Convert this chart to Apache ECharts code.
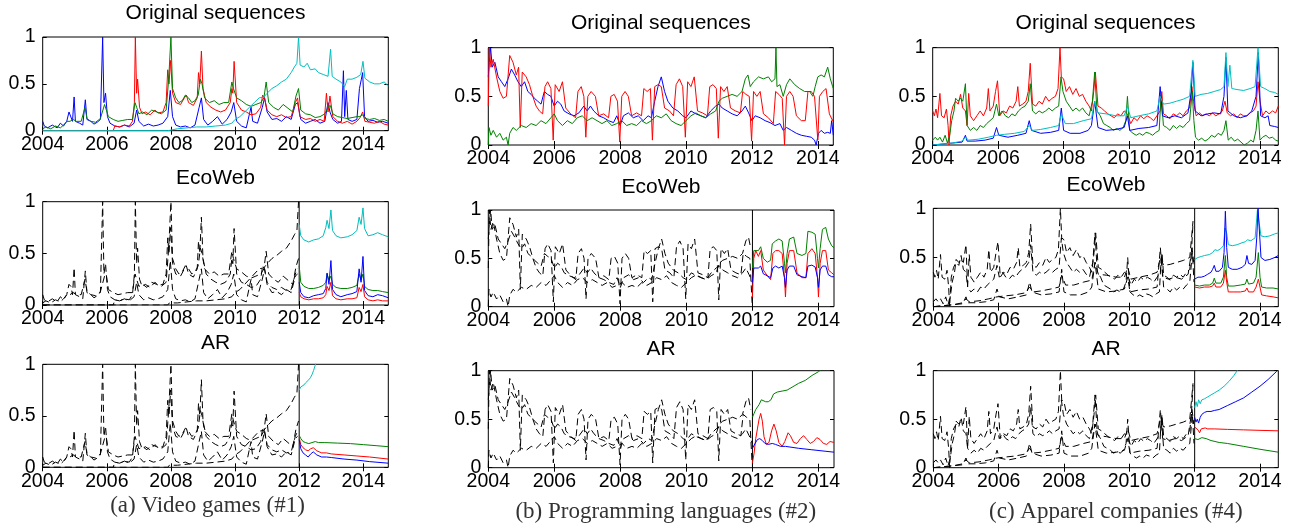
<!DOCTYPE html>
<html>
<head>
<meta charset="utf-8">
<script src="https://cdn.jsdelivr.net/npm/echarts@6/dist/echarts.min.js"></script>
<style>
    html, body { margin: 0; padding: 0; background: #fff; }
    #main { width: 1293px; height: 527px; }
</style>
</head>
<body>
<div id="main"></div>
<script>
// tick labels
var xTickVals = [2004, 2006, 2008, 2010, 2012, 2014];
var yTickVals = [0, 0.5, 1];
var splitYear = 2012;

// (a) Video games - original sequences [year, value]
var aBlue = [[2004.0,0.1],[2004.05,0.05],[2004.15,0.03],[2004.3,0.06],[2004.45,0.03],[2004.55,0.08],[2004.65,0.05],[2004.75,0.1],[2004.82,0.2],[2004.88,0.18],[2004.93,0.1],[2004.98,0.36],[2005.02,0.1],[2005.15,0.08],[2005.25,0.06],[2005.33,0.33],[2005.38,0.12],[2005.5,0.1],[2005.6,0.07],[2005.7,0.09],[2005.8,0.12],[2005.87,1.0],[2005.91,0.3],[2005.96,0.4],[2006.02,0.15],[2006.1,0.08],[2006.25,0.05],[2006.4,0.04],[2006.55,0.06],[2006.7,0.04],[2006.85,0.08],[2006.93,0.22],[2007.0,0.1],[2007.15,0.05],[2007.3,0.07],[2007.45,0.05],[2007.6,0.06],[2007.75,0.08],[2007.9,0.15],[2007.98,0.43],[2008.05,0.15],[2008.15,0.06],[2008.3,0.04],[2008.45,0.05],[2008.6,0.03],[2008.75,0.06],[2008.88,0.25],[2008.95,0.35],[2009.02,0.12],[2009.15,0.06],[2009.3,0.1],[2009.45,0.15],[2009.6,0.07],[2009.75,0.12],[2009.88,0.2],[2009.96,0.3],[2010.05,0.1],[2010.2,0.05],[2010.35,0.03],[2010.45,0.18],[2010.5,0.25],[2010.55,0.1],[2010.7,0.08],[2010.85,0.25],[2010.92,0.35],[2011.0,0.2],[2011.15,0.12],[2011.3,0.13],[2011.45,0.1],[2011.6,0.15],[2011.75,0.12],[2011.88,0.28],[2011.95,0.3],[2012.05,0.12],[2012.2,0.08],[2012.35,0.1],[2012.5,0.12],[2012.65,0.08],[2012.8,0.1],[2012.9,0.3],[2012.96,0.2],[2013.05,0.12],[2013.2,0.08],[2013.32,0.1],[2013.38,0.64],[2013.42,0.15],[2013.47,0.43],[2013.52,0.12],[2013.65,0.1],[2013.8,0.12],[2013.88,0.45],[2013.94,0.55],[2013.98,0.62],[2014.04,0.15],[2014.15,0.1],[2014.3,0.11],[2014.45,0.09],[2014.6,0.1],[2014.78,0.08]];
var aRed = [[2004.0,0.0],[2006.2,0.0],[2006.25,0.05],[2006.4,0.04],[2006.55,0.06],[2006.7,0.05],[2006.8,0.1],[2006.86,0.3],[2006.89,1.0],[2006.93,0.4],[2006.96,0.55],[2007.02,0.25],[2007.1,0.18],[2007.2,0.2],[2007.35,0.17],[2007.5,0.22],[2007.6,0.19],[2007.75,0.2],[2007.85,0.3],[2007.9,0.65],[2007.94,0.5],[2007.99,0.75],[2008.05,0.4],[2008.15,0.3],[2008.3,0.28],[2008.42,0.35],[2008.48,0.38],[2008.55,0.3],[2008.7,0.27],[2008.82,0.35],[2008.86,0.62],[2008.9,0.5],[2008.95,0.85],[2009.0,0.45],[2009.1,0.3],[2009.25,0.25],[2009.4,0.22],[2009.55,0.2],[2009.7,0.22],[2009.85,0.3],[2009.9,0.45],[2009.93,0.4],[2009.97,0.74],[2010.05,0.3],[2010.2,0.22],[2010.35,0.2],[2010.5,0.17],[2010.65,0.18],[2010.8,0.25],[2010.86,0.38],[2010.92,0.35],[2011.0,0.22],[2011.15,0.17],[2011.3,0.15],[2011.45,0.17],[2011.6,0.14],[2011.75,0.15],[2011.88,0.3],[2011.95,0.35],[2012.02,0.15],[2012.2,0.12],[2012.35,0.13],[2012.5,0.1],[2012.65,0.12],[2012.78,0.1],[2012.85,0.4],[2012.9,0.2],[2012.96,0.37],[2013.05,0.15],[2013.2,0.1],[2013.35,0.08],[2013.5,0.1],[2013.65,0.07],[2013.8,0.1],[2013.9,0.14],[2013.98,0.2],[2014.05,0.1],[2014.2,0.09],[2014.35,0.08],[2014.5,0.1],[2014.65,0.07],[2014.78,0.06]];
var aGreen = [[2004.0,0.02],[2004.1,0.04],[2004.25,0.02],[2004.4,0.05],[2004.55,0.03],[2004.65,0.06],[2004.75,0.1],[2004.85,0.1],[2004.95,0.12],[2005.05,0.1],[2005.2,0.1],[2005.32,0.25],[2005.38,0.13],[2005.5,0.1],[2005.65,0.09],[2005.8,0.13],[2005.93,0.28],[2005.98,0.3],[2006.05,0.15],[2006.2,0.12],[2006.35,0.1],[2006.5,0.11],[2006.65,0.12],[2006.8,0.12],[2006.88,0.3],[2006.93,0.25],[2007.0,0.18],[2007.12,0.2],[2007.25,0.17],[2007.4,0.22],[2007.55,0.2],[2007.7,0.18],[2007.85,0.22],[2007.93,0.55],[2008.0,1.0],[2008.05,0.45],[2008.15,0.35],[2008.25,0.3],[2008.35,0.32],[2008.45,0.38],[2008.55,0.35],[2008.65,0.3],[2008.75,0.32],[2008.85,0.38],[2008.92,0.55],[2008.97,0.5],[2009.05,0.35],[2009.2,0.3],[2009.35,0.32],[2009.5,0.28],[2009.65,0.3],[2009.8,0.3],[2009.9,0.52],[2009.95,0.45],[2010.05,0.35],[2010.2,0.32],[2010.35,0.28],[2010.5,0.26],[2010.65,0.28],[2010.8,0.3],[2010.9,0.35],[2010.97,0.52],[2011.05,0.3],[2011.2,0.25],[2011.35,0.22],[2011.5,0.28],[2011.65,0.24],[2011.8,0.2],[2011.9,0.37],[2011.98,0.45],[2012.05,0.22],[2012.2,0.18],[2012.35,0.17],[2012.5,0.14],[2012.65,0.15],[2012.8,0.18],[2012.9,0.25],[2012.97,0.27],[2013.05,0.18],[2013.2,0.15],[2013.35,0.14],[2013.5,0.13],[2013.65,0.14],[2013.8,0.15],[2013.9,0.15],[2013.98,0.17],[2014.05,0.13],[2014.2,0.12],[2014.35,0.13],[2014.5,0.11],[2014.65,0.12],[2014.78,0.1]];
var aCyan = [[2004.0,0.0],[2007.9,0.0],[2007.95,0.02],[2008.2,0.02],[2008.5,0.03],[2008.8,0.04],[2009.1,0.04],[2009.4,0.05],[2009.7,0.06],[2009.9,0.08],[2010.0,0.12],[2010.15,0.15],[2010.3,0.2],[2010.45,0.25],[2010.6,0.3],[2010.75,0.35],[2010.9,0.36],[2011.0,0.4],[2011.15,0.45],[2011.3,0.48],[2011.45,0.52],[2011.6,0.55],[2011.75,0.62],[2011.85,0.68],[2011.93,0.72],[2011.98,1.0],[2012.03,0.7],[2012.15,0.68],[2012.25,0.72],[2012.35,0.65],[2012.5,0.66],[2012.6,0.62],[2012.75,0.6],[2012.9,0.58],[2012.98,0.87],[2013.03,0.58],[2013.15,0.55],[2013.3,0.52],[2013.42,0.47],[2013.5,0.55],[2013.65,0.55],[2013.8,0.57],[2013.92,0.6],[2013.99,0.74],[2014.05,0.56],[2014.2,0.52],[2014.35,0.5],[2014.5,0.5],[2014.65,0.52],[2014.78,0.48]];

// (a) forecasts
var aEcoCyan = [[2012.0,0.78],[2012.05,0.67],[2012.15,0.63],[2012.3,0.61],[2012.45,0.63],[2012.6,0.64],[2012.75,0.67],[2012.83,0.75],[2012.87,0.82],[2012.93,0.74],[2012.99,0.92],[2013.04,0.72],[2013.15,0.67],[2013.3,0.65],[2013.5,0.66],[2013.65,0.68],[2013.8,0.72],[2013.87,0.85],[2013.93,0.78],[2013.99,0.94],[2014.04,0.74],[2014.15,0.67],[2014.3,0.68],[2014.45,0.7],[2014.6,0.68],[2014.78,0.66]];
var aEcoGreen = [[2012.0,0.38],[2012.05,0.22],[2012.15,0.18],[2012.3,0.16],[2012.45,0.16],[2012.6,0.17],[2012.75,0.19],[2012.83,0.22],[2012.87,0.3],[2012.93,0.24],[2012.99,0.28],[2013.04,0.2],[2013.15,0.17],[2013.3,0.16],[2013.5,0.16],[2013.65,0.17],[2013.8,0.19],[2013.87,0.3],[2013.93,0.24],[2013.99,0.3],[2014.04,0.18],[2014.15,0.15],[2014.3,0.14],[2014.45,0.14],[2014.6,0.13],[2014.78,0.12]];
var aEcoBlue = [[2012.0,0.22],[2012.05,0.12],[2012.15,0.08],[2012.3,0.07],[2012.45,0.09],[2012.6,0.1],[2012.75,0.11],[2012.83,0.16],[2012.87,0.31],[2012.93,0.2],[2012.99,0.43],[2013.04,0.15],[2013.15,0.1],[2013.3,0.08],[2013.5,0.1],[2013.65,0.11],[2013.8,0.13],[2013.87,0.35],[2013.93,0.22],[2013.99,0.47],[2014.04,0.14],[2014.15,0.09],[2014.3,0.08],[2014.45,0.1],[2014.6,0.09],[2014.78,0.07]];
var aEcoRed = [[2012.0,0.12],[2012.05,0.08],[2012.15,0.06],[2012.3,0.05],[2012.45,0.06],[2012.6,0.06],[2012.75,0.07],[2012.83,0.1],[2012.87,0.18],[2012.93,0.14],[2012.99,0.22],[2013.04,0.09],[2013.15,0.06],[2013.3,0.05],[2013.5,0.06],[2013.65,0.06],[2013.8,0.07],[2013.87,0.17],[2013.93,0.13],[2013.99,0.2],[2014.04,0.08],[2014.15,0.05],[2014.3,0.04],[2014.45,0.05],[2014.6,0.04],[2014.78,0.04]];
var aArCyan = [[2012.0,0.75],[2012.05,0.78],[2012.1,0.77],[2012.15,0.8],[2012.2,0.82],[2012.25,0.82],[2012.3,0.85],[2012.35,0.87],[2012.4,0.9],[2012.45,0.94],[2012.5,0.99],[2012.55,1.05]];
var aArGreen = [[2012.0,0.31],[2012.05,0.28],[2012.12,0.25],[2012.2,0.24],[2012.3,0.23],[2012.4,0.24],[2012.5,0.25],[2012.6,0.24],[2012.8,0.24],[2013.2,0.235],[2013.6,0.23],[2014.0,0.22],[2014.4,0.21],[2014.78,0.2]];
var aArRed = [[2012.0,0.29],[2012.05,0.22],[2012.12,0.19],[2012.2,0.17],[2012.28,0.16],[2012.36,0.18],[2012.44,0.19],[2012.55,0.16],[2012.7,0.14],[2012.85,0.14],[2013.0,0.13],[2013.4,0.12],[2013.8,0.11],[2014.2,0.1],[2014.78,0.08]];
var aArBlue = [[2012.0,0.27],[2012.05,0.18],[2012.12,0.14],[2012.2,0.12],[2012.28,0.1],[2012.36,0.13],[2012.44,0.15],[2012.55,0.12],[2012.7,0.1],[2012.85,0.1],[2013.0,0.095],[2013.4,0.08],[2013.8,0.07],[2014.2,0.055],[2014.78,0.04]];

// (b) Programming languages - original sequences
var bBlue = [[2004.0,0.7],[2004.03,0.85],[2004.07,1.0],[2004.12,0.8],[2004.2,0.85],[2004.3,0.7],[2004.4,0.65],[2004.5,0.6],[2004.6,0.68],[2004.7,0.78],[2004.8,0.72],[2004.9,0.65],[2005.0,0.6],[2005.1,0.65],[2005.2,0.55],[2005.3,0.52],[2005.4,0.48],[2005.5,0.45],[2005.6,0.42],[2005.7,0.55],[2005.8,0.52],[2005.9,0.5],[2006.0,0.4],[2006.1,0.45],[2006.2,0.42],[2006.3,0.35],[2006.45,0.32],[2006.6,0.3],[2006.75,0.33],[2006.9,0.4],[2007.0,0.35],[2007.1,0.4],[2007.2,0.35],[2007.35,0.3],[2007.5,0.28],[2007.65,0.25],[2007.8,0.23],[2007.9,0.3],[2008.0,0.2],[2008.1,0.3],[2008.25,0.33],[2008.4,0.28],[2008.55,0.3],[2008.7,0.25],[2008.85,0.3],[2008.95,0.28],[2009.05,0.45],[2009.15,0.6],[2009.25,0.7],[2009.35,0.55],[2009.45,0.45],[2009.6,0.38],[2009.75,0.35],[2009.9,0.3],[2010.0,0.28],[2010.15,0.35],[2010.3,0.32],[2010.45,0.3],[2010.6,0.28],[2010.75,0.35],[2010.9,0.4],[2011.0,0.42],[2011.1,0.38],[2011.25,0.35],[2011.4,0.32],[2011.55,0.3],[2011.7,0.35],[2011.8,0.4],[2011.9,0.33],[2012.0,0.25],[2012.1,0.3],[2012.25,0.28],[2012.4,0.25],[2012.55,0.23],[2012.7,0.2],[2012.85,0.22],[2012.95,0.15],[2013.05,0.18],[2013.2,0.15],[2013.35,0.12],[2013.5,0.1],[2013.65,0.09],[2013.8,0.08],[2013.9,0.05],[2013.95,0.0],[2014.02,0.12],[2014.1,0.15],[2014.2,0.12],[2014.3,0.13],[2014.38,0.12],[2014.42,0.25],[2014.47,0.1]];
var bRed = [[2004.0,0.4],[2004.03,1.0],[2004.08,0.8],[2004.15,0.88],[2004.25,0.7],[2004.35,0.55],[2004.45,0.48],[2004.55,0.5],[2004.65,0.92],[2004.75,0.85],[2004.85,0.72],[2004.92,0.8],[2004.97,0.18],[2005.03,0.75],[2005.15,0.7],[2005.25,0.62],[2005.35,0.5],[2005.45,0.4],[2005.55,0.35],[2005.65,0.32],[2005.72,0.6],[2005.8,0.65],[2005.9,0.58],[2005.97,0.05],[2006.03,0.62],[2006.15,0.55],[2006.25,0.65],[2006.35,0.38],[2006.5,0.32],[2006.65,0.28],[2006.72,0.55],[2006.82,0.6],[2006.9,0.5],[2006.96,0.08],[2007.02,0.5],[2007.12,0.55],[2007.25,0.5],[2007.35,0.3],[2007.5,0.32],[2007.65,0.28],[2007.72,0.5],[2007.82,0.52],[2007.92,0.45],[2007.99,0.03],[2008.05,0.5],[2008.15,0.55],[2008.25,0.5],[2008.35,0.3],[2008.5,0.33],[2008.65,0.3],[2008.72,0.58],[2008.82,0.55],[2008.92,0.58],[2008.98,0.05],[2009.05,0.6],[2009.15,0.62],[2009.25,0.6],[2009.35,0.38],[2009.5,0.35],[2009.62,0.3],[2009.7,0.62],[2009.8,0.68],[2009.9,0.6],[2009.98,0.08],[2010.05,0.65],[2010.15,0.6],[2010.25,0.7],[2010.35,0.35],[2010.5,0.33],[2010.65,0.3],[2010.72,0.6],[2010.82,0.62],[2010.92,0.58],[2010.98,0.07],[2011.05,0.6],[2011.15,0.55],[2011.25,0.6],[2011.35,0.38],[2011.5,0.35],[2011.65,0.33],[2011.72,0.55],[2011.82,0.52],[2011.92,0.5],[2011.99,0.04],[2012.05,0.55],[2012.15,0.5],[2012.25,0.55],[2012.35,0.32],[2012.5,0.28],[2012.65,0.22],[2012.72,0.55],[2012.82,0.52],[2012.92,0.48],[2012.99,0.0],[2013.05,0.5],[2013.15,0.55],[2013.25,0.5],[2013.35,0.3],[2013.5,0.25],[2013.62,0.25],[2013.7,0.55],[2013.8,0.55],[2013.9,0.5],[2014.0,0.05],[2014.05,0.5],[2014.15,0.55],[2014.25,0.58],[2014.35,0.32],[2014.45,0.25],[2014.47,0.27]];
var bGreen = [[2004.0,0.0],[2004.02,0.18],[2004.08,0.1],[2004.15,0.15],[2004.25,0.08],[2004.35,0.12],[2004.45,0.05],[2004.55,0.08],[2004.6,0.0],[2004.65,0.12],[2004.75,0.18],[2004.85,0.15],[2005.0,0.2],[2005.15,0.18],[2005.3,0.22],[2005.45,0.2],[2005.6,0.25],[2005.75,0.22],[2005.9,0.28],[2006.0,0.32],[2006.1,0.25],[2006.25,0.2],[2006.4,0.25],[2006.55,0.22],[2006.7,0.28],[2006.85,0.3],[2007.0,0.25],[2007.15,0.28],[2007.3,0.25],[2007.45,0.22],[2007.6,0.25],[2007.75,0.2],[2007.9,0.22],[2008.05,0.25],[2008.2,0.2],[2008.35,0.22],[2008.5,0.2],[2008.65,0.25],[2008.8,0.22],[2008.95,0.25],[2009.1,0.3],[2009.25,0.28],[2009.4,0.32],[2009.55,0.25],[2009.7,0.22],[2009.85,0.2],[2010.0,0.25],[2010.15,0.3],[2010.3,0.33],[2010.45,0.3],[2010.6,0.28],[2010.75,0.32],[2010.9,0.35],[2011.0,0.45],[2011.1,0.48],[2011.25,0.5],[2011.4,0.52],[2011.55,0.5],[2011.7,0.55],[2011.8,0.68],[2011.88,0.72],[2011.95,0.6],[2012.05,0.65],[2012.2,0.7],[2012.35,0.68],[2012.5,0.7],[2012.6,0.65],[2012.7,0.68],[2012.73,1.0],[2012.76,0.6],[2012.85,0.62],[2012.95,0.5],[2013.05,0.62],[2013.15,0.68],[2013.3,0.62],[2013.45,0.58],[2013.6,0.55],[2013.75,0.55],[2013.85,0.5],[2013.92,0.6],[2014.0,0.7],[2014.1,0.72],[2014.2,0.7],[2014.3,0.8],[2014.38,0.68],[2014.45,0.6],[2014.47,0.58]];

// (b) forecasts
var bEcoGreen = [[2012.0,0.4],[2012.04,0.58],[2012.1,0.6],[2012.18,0.58],[2012.25,0.62],[2012.33,0.5],[2012.45,0.46],[2012.55,0.48],[2012.6,0.65],[2012.7,0.68],[2012.8,0.7],[2012.9,0.68],[2012.97,0.45],[2013.0,0.35],[2013.05,0.55],[2013.12,0.7],[2013.25,0.72],[2013.35,0.55],[2013.5,0.53],[2013.62,0.55],[2013.68,0.78],[2013.8,0.77],[2013.9,0.75],[2013.97,0.5],[2014.0,0.4],[2014.05,0.6],[2014.12,0.8],[2014.22,0.82],[2014.3,0.7],[2014.4,0.63],[2014.47,0.61]];
var bEcoRed = [[2012.0,0.1],[2012.04,0.5],[2012.1,0.58],[2012.18,0.52],[2012.25,0.58],[2012.33,0.38],[2012.45,0.32],[2012.55,0.28],[2012.62,0.55],[2012.7,0.58],[2012.8,0.58],[2012.9,0.55],[2012.97,0.3],[2013.0,0.1],[2013.05,0.45],[2013.12,0.58],[2013.25,0.58],[2013.35,0.35],[2013.5,0.3],[2013.62,0.3],[2013.68,0.55],[2013.8,0.6],[2013.9,0.55],[2013.97,0.3],[2014.0,0.1],[2014.05,0.45],[2014.12,0.58],[2014.22,0.58],[2014.3,0.38],[2014.4,0.35],[2014.47,0.33]];
var bEcoBlue = [[2012.0,0.25],[2012.04,0.4],[2012.1,0.42],[2012.18,0.4],[2012.25,0.42],[2012.33,0.34],[2012.45,0.32],[2012.55,0.3],[2012.62,0.4],[2012.7,0.42],[2012.8,0.4],[2012.9,0.42],[2012.97,0.3],[2013.0,0.2],[2013.05,0.38],[2013.12,0.42],[2013.25,0.42],[2013.35,0.33],[2013.5,0.31],[2013.62,0.3],[2013.68,0.42],[2013.8,0.43],[2013.9,0.41],[2013.97,0.3],[2014.0,0.2],[2014.05,0.38],[2014.12,0.42],[2014.22,0.42],[2014.3,0.33],[2014.4,0.31],[2014.47,0.31]];
var bArGreen = [[2012.0,0.52],[2012.05,0.56],[2012.1,0.6],[2012.15,0.62],[2012.2,0.65],[2012.27,0.7],[2012.33,0.72],[2012.4,0.68],[2012.48,0.68],[2012.56,0.7],[2012.64,0.76],[2012.75,0.78],[2012.9,0.79],[2013.05,0.8],[2013.2,0.83],[2013.4,0.87],[2013.6,0.9],[2013.8,0.95],[2014.0,0.99],[2014.15,1.03]];
var bArRed = [[2012.0,0.05],[2012.05,0.15],[2012.1,0.3],[2012.15,0.4],[2012.2,0.5],[2012.25,0.56],[2012.3,0.48],[2012.35,0.32],[2012.42,0.24],[2012.5,0.26],[2012.58,0.38],[2012.65,0.45],[2012.72,0.38],[2012.8,0.26],[2012.9,0.22],[2012.98,0.27],[2013.08,0.36],[2013.15,0.33],[2013.25,0.26],[2013.35,0.25],[2013.45,0.3],[2013.55,0.33],[2013.65,0.29],[2013.75,0.25],[2013.85,0.27],[2013.95,0.31],[2014.05,0.29],[2014.15,0.25],[2014.25,0.24],[2014.35,0.27],[2014.47,0.26]];
var bArBlue = [[2012.0,0.2],[2012.08,0.25],[2012.15,0.29],[2012.22,0.3],[2012.3,0.28],[2012.38,0.25],[2012.48,0.24],[2012.6,0.25],[2012.7,0.24],[2012.85,0.22],[2013.0,0.22],[2013.4,0.2],[2013.8,0.185],[2014.2,0.17],[2014.47,0.16]];

// (c) Apparel companies - original sequences
var cRed = [[2004.0,0.35],[2004.05,0.3],[2004.1,0.37],[2004.15,0.28],[2004.22,0.53],[2004.27,0.3],[2004.35,0.28],[2004.42,0.37],[2004.47,0.2],[2004.5,0.0],[2004.55,0.3],[2004.62,0.4],[2004.7,0.45],[2004.78,0.42],[2004.85,0.52],[2004.92,0.38],[2005.0,0.35],[2005.05,0.2],[2005.1,0.53],[2005.15,0.3],[2005.25,0.25],[2005.35,0.3],[2005.45,0.35],[2005.55,0.3],[2005.65,0.38],[2005.7,0.58],[2005.75,0.35],[2005.85,0.4],[2005.92,0.55],[2005.98,0.66],[2006.05,0.3],[2006.15,0.35],[2006.25,0.33],[2006.35,0.4],[2006.45,0.38],[2006.55,0.45],[2006.6,0.6],[2006.65,0.4],[2006.75,0.42],[2006.85,0.45],[2006.92,0.55],[2006.98,0.84],[2007.05,0.42],[2007.15,0.4],[2007.25,0.45],[2007.35,0.42],[2007.45,0.5],[2007.55,0.45],[2007.65,0.48],[2007.75,0.5],[2007.83,0.58],[2007.89,1.0],[2007.93,0.7],[2008.0,0.68],[2008.08,0.55],[2008.18,0.6],[2008.28,0.52],[2008.38,0.58],[2008.48,0.5],[2008.58,0.52],[2008.68,0.45],[2008.78,0.4],[2008.85,0.35],[2008.92,0.55],[2008.97,0.75],[2009.05,0.4],[2009.15,0.38],[2009.25,0.35],[2009.35,0.32],[2009.45,0.3],[2009.55,0.28],[2009.65,0.32],[2009.75,0.3],[2009.85,0.35],[2009.95,0.32],[2010.05,0.22],[2010.15,0.28],[2010.25,0.25],[2010.35,0.3],[2010.45,0.27],[2010.55,0.3],[2010.65,0.28],[2010.75,0.25],[2010.85,0.3],[2010.95,0.35],[2011.0,0.55],[2011.05,0.32],[2011.15,0.3],[2011.25,0.27],[2011.35,0.32],[2011.45,0.3],[2011.55,0.33],[2011.65,0.3],[2011.75,0.35],[2011.85,0.38],[2011.92,0.6],[2011.97,0.45],[2012.05,0.3],[2012.15,0.33],[2012.25,0.3],[2012.35,0.32],[2012.45,0.3],[2012.55,0.33],[2012.65,0.3],[2012.75,0.32],[2012.85,0.35],[2012.93,0.45],[2013.0,0.33],[2013.1,0.3],[2013.2,0.32],[2013.3,0.28],[2013.4,0.32],[2013.5,0.3],[2013.6,0.3],[2013.7,0.33],[2013.8,0.35],[2013.88,0.4],[2013.94,0.65],[2014.0,0.45],[2014.08,0.3],[2014.18,0.35],[2014.28,0.32],[2014.38,0.35],[2014.48,0.33],[2014.56,0.4]];
var cGreen = [[2004.0,0.05],[2004.08,0.08],[2004.15,0.05],[2004.22,0.08],[2004.3,0.03],[2004.38,0.1],[2004.45,0.02],[2004.52,0.1],[2004.58,0.25],[2004.65,0.35],[2004.7,0.48],[2004.78,0.45],[2004.85,0.48],[2004.92,0.45],[2005.0,0.63],[2005.05,0.2],[2005.15,0.15],[2005.25,0.18],[2005.35,0.15],[2005.45,0.2],[2005.55,0.18],[2005.65,0.22],[2005.75,0.25],[2005.85,0.28],[2005.95,0.42],[2006.02,0.3],[2006.12,0.35],[2006.22,0.3],[2006.32,0.28],[2006.42,0.32],[2006.52,0.3],[2006.62,0.35],[2006.72,0.38],[2006.82,0.4],[2006.92,0.45],[2006.98,0.63],[2007.05,0.35],[2007.15,0.32],[2007.25,0.35],[2007.35,0.33],[2007.45,0.35],[2007.55,0.38],[2007.65,0.35],[2007.75,0.38],[2007.85,0.4],[2007.92,0.7],[2007.98,0.55],[2008.08,0.45],[2008.18,0.4],[2008.28,0.35],[2008.38,0.38],[2008.48,0.35],[2008.58,0.38],[2008.68,0.33],[2008.78,0.3],[2008.88,0.45],[2008.95,0.75],[2009.02,0.35],[2009.12,0.3],[2009.22,0.22],[2009.32,0.2],[2009.42,0.18],[2009.52,0.15],[2009.62,0.17],[2009.72,0.15],[2009.82,0.18],[2009.9,0.25],[2009.95,0.5],[2010.02,0.15],[2010.12,0.12],[2010.22,0.1],[2010.32,0.12],[2010.42,0.1],[2010.52,0.13],[2010.62,0.12],[2010.72,0.1],[2010.82,0.13],[2010.92,0.15],[2010.98,0.52],[2011.05,0.2],[2011.15,0.18],[2011.25,0.15],[2011.35,0.2],[2011.45,0.17],[2011.55,0.2],[2011.65,0.18],[2011.75,0.22],[2011.85,0.25],[2011.93,0.55],[2011.98,0.25],[2012.03,0.08],[2012.12,0.05],[2012.22,0.07],[2012.32,0.04],[2012.42,0.06],[2012.52,0.1],[2012.62,0.08],[2012.72,0.12],[2012.82,0.1],[2012.9,0.15],[2012.96,0.25],[2013.03,0.05],[2013.12,0.08],[2013.22,0.04],[2013.32,0.06],[2013.42,0.03],[2013.52,0.0],[2013.62,0.02],[2013.72,0.05],[2013.8,0.03],[2013.88,0.15],[2013.94,0.35],[2014.0,0.05],[2014.08,0.08],[2014.18,0.1],[2014.28,0.07],[2014.38,0.08],[2014.48,0.05],[2014.56,0.04]];
var cBlue = [[2004.0,0.0],[2004.3,0.01],[2004.6,0.02],[2004.9,0.03],[2005.0,0.1],[2005.05,0.04],[2005.3,0.04],[2005.6,0.05],[2005.85,0.07],[2005.95,0.18],[2006.02,0.1],[2006.3,0.08],[2006.6,0.1],[2006.85,0.12],[2006.95,0.25],[2007.02,0.15],[2007.3,0.12],[2007.6,0.13],[2007.85,0.15],[2007.93,0.38],[2008.0,0.15],[2008.2,0.12],[2008.5,0.12],[2008.75,0.15],[2008.85,0.2],[2008.95,0.45],[2009.05,0.18],[2009.3,0.15],[2009.6,0.16],[2009.85,0.18],[2009.95,0.3],[2010.02,0.15],[2010.3,0.17],[2010.6,0.18],[2010.85,0.2],[2010.95,0.6],[2011.02,0.3],[2011.2,0.28],[2011.4,0.3],[2011.6,0.28],[2011.8,0.33],[2011.9,0.55],[2011.95,0.85],[2012.02,0.35],[2012.2,0.3],[2012.4,0.32],[2012.6,0.33],[2012.8,0.32],[2012.9,0.5],[2012.96,0.9],[2013.02,0.35],[2013.2,0.3],[2013.4,0.28],[2013.6,0.3],[2013.75,0.35],[2013.88,0.5],[2013.95,0.95],[2014.02,0.3],[2014.15,0.28],[2014.25,0.3],[2014.3,0.2],[2014.45,0.19],[2014.56,0.18]];
var cCyan = [[2004.0,0.0],[2004.3,0.01],[2004.6,0.02],[2004.9,0.04],[2005.0,0.08],[2005.1,0.05],[2005.4,0.06],[2005.7,0.08],[2005.95,0.1],[2006.2,0.11],[2006.5,0.12],[2006.8,0.14],[2006.95,0.2],[2007.05,0.15],[2007.3,0.16],[2007.6,0.18],[2007.85,0.2],[2007.93,0.32],[2008.05,0.22],[2008.3,0.22],[2008.6,0.25],[2008.85,0.27],[2008.95,0.45],[2009.05,0.33],[2009.3,0.32],[2009.6,0.3],[2009.85,0.3],[2009.95,0.4],[2010.05,0.28],[2010.3,0.3],[2010.6,0.32],[2010.85,0.35],[2010.95,0.5],[2011.05,0.42],[2011.25,0.43],[2011.45,0.45],[2011.65,0.47],[2011.85,0.5],[2011.95,0.87],[2012.02,0.5],[2012.2,0.52],[2012.4,0.53],[2012.6,0.55],[2012.8,0.57],[2012.9,0.6],[2012.96,0.95],[2013.02,0.6],[2013.08,0.82],[2013.14,0.58],[2013.3,0.57],[2013.5,0.56],[2013.7,0.58],[2013.85,0.6],[2013.94,1.0],[2014.02,0.6],[2014.15,0.58],[2014.3,0.55],[2014.45,0.54],[2014.56,0.52]];

// (c) forecasts
var cEcoCyan = [[2012.0,0.48],[2012.1,0.5],[2012.2,0.51],[2012.3,0.52],[2012.45,0.53],[2012.55,0.55],[2012.62,0.58],[2012.7,0.57],[2012.8,0.59],[2012.88,0.62],[2012.93,0.8],[2012.98,0.75],[2013.03,0.63],[2013.15,0.62],[2013.3,0.63],[2013.45,0.65],[2013.55,0.66],[2013.62,0.68],[2013.72,0.67],[2013.85,0.7],[2013.92,0.98],[2013.97,1.0],[2014.03,0.72],[2014.15,0.71],[2014.3,0.72],[2014.45,0.74],[2014.56,0.75]];
var cEcoBlue = [[2012.0,0.28],[2012.1,0.3],[2012.2,0.3],[2012.3,0.31],[2012.4,0.33],[2012.5,0.35],[2012.55,0.38],[2012.6,0.42],[2012.65,0.36],[2012.75,0.36],[2012.85,0.4],[2012.9,0.55],[2012.94,0.97],[2012.98,0.6],[2013.03,0.4],[2013.15,0.38],[2013.3,0.38],[2013.45,0.4],[2013.55,0.43],[2013.6,0.52],[2013.65,0.44],[2013.75,0.43],[2013.85,0.47],[2013.9,0.7],[2013.94,1.0],[2013.98,1.0],[2014.03,0.5],[2014.15,0.47],[2014.3,0.48],[2014.45,0.5],[2014.56,0.52]];
var cEcoGreen = [[2012.0,0.22],[2012.15,0.21],[2012.3,0.22],[2012.45,0.22],[2012.55,0.24],[2012.6,0.29],[2012.65,0.24],[2012.8,0.24],[2012.88,0.3],[2012.94,0.52],[2012.98,0.3],[2013.03,0.21],[2013.2,0.21],[2013.4,0.22],[2013.55,0.23],[2013.6,0.28],[2013.65,0.23],[2013.8,0.24],[2013.88,0.3],[2013.95,0.55],[2014.0,0.3],[2014.05,0.2],[2014.2,0.19],[2014.4,0.19],[2014.56,0.18]];
var cEcoRed = [[2012.0,0.2],[2012.15,0.19],[2012.3,0.2],[2012.45,0.2],[2012.55,0.21],[2012.6,0.24],[2012.65,0.2],[2012.8,0.2],[2012.88,0.24],[2012.94,0.37],[2012.98,0.25],[2013.03,0.15],[2013.2,0.15],[2013.4,0.15],[2013.55,0.16],[2013.6,0.19],[2013.65,0.15],[2013.8,0.15],[2013.88,0.2],[2013.95,0.28],[2014.0,0.2],[2014.05,0.12],[2014.2,0.11],[2014.4,0.1],[2014.56,0.09]];
var cArCyan = [[2012.0,0.62],[2012.04,0.68],[2012.08,0.63],[2012.12,0.7],[2012.17,0.66],[2012.22,0.7],[2012.3,0.71],[2012.4,0.73],[2012.5,0.75],[2012.6,0.77],[2012.75,0.8],[2012.9,0.84],[2013.05,0.89],[2013.2,0.95],[2013.3,1.0],[2013.4,1.05]];
var cArBlue = [[2012.0,0.52],[2012.04,0.47],[2012.08,0.5],[2012.12,0.46],[2012.17,0.52],[2012.22,0.55],[2012.3,0.57],[2012.38,0.58],[2012.5,0.58],[2012.6,0.59],[2012.75,0.6],[2013.0,0.64],[2013.25,0.68],[2013.5,0.72],[2013.75,0.78],[2014.0,0.84],[2014.25,0.91],[2014.5,0.99],[2014.56,1.01]];
var cArRed = [[2012.0,0.42],[2012.05,0.4],[2012.1,0.39],[2012.15,0.36],[2012.2,0.4],[2012.25,0.42],[2012.32,0.41],[2012.4,0.4],[2012.6,0.4],[2013.0,0.395],[2013.5,0.39],[2014.0,0.385],[2014.56,0.38]];
var cArGreen = [[2012.0,0.3],[2012.05,0.28],[2012.1,0.29],[2012.15,0.28],[2012.22,0.31],[2012.28,0.32],[2012.35,0.3],[2012.5,0.28],[2012.75,0.26],[2013.0,0.25],[2013.5,0.22],[2014.0,0.19],[2014.56,0.16]];

var BLUE = '#0000ff', RED = '#ff0000', GREEN = '#008000', CYAN = '#00bfbf';

// plot boxes (pixels) and x extent, row by row: original / EcoWeb / AR
var boxes = [
    {l: 42.7, t: 37, r: 388.3, b: 130.7, max: 2014.78},
    {l: 488.3, t: 47.7, r: 833.3, b: 145, max: 2014.47},
    {l: 932.7, t: 47.7, r: 1278.3, b: 145, max: 2014.56},
    {l: 42.7, t: 201.7, r: 388.3, b: 305, max: 2014.78},
    {l: 488.3, t: 210, r: 834, b: 306.7, max: 2014.47},
    {l: 933.3, t: 208.3, r: 1278.3, b: 306.7, max: 2014.56},
    {l: 42.7, t: 364.3, r: 388.3, b: 467.3, max: 2014.78},
    {l: 488.3, t: 370.7, r: 834, b: 467.7, max: 2014.47},
    {l: 933.3, t: 370.7, r: 1278.3, b: 467.7, max: 2014.56}
];

var origA = [[aBlue, BLUE], [aRed, RED], [aGreen, GREEN], [aCyan, CYAN]];
var origB = [[bBlue, BLUE], [bRed, RED], [bGreen, GREEN]];
var origC = [[cRed, RED], [cGreen, GREEN], [cBlue, BLUE], [cCyan, CYAN]];

var panels = [
    {orig: origA},
    {orig: origB},
    {orig: origC},
    {train: origA, fc: [[aEcoCyan, CYAN], [aEcoGreen, GREEN], [aEcoBlue, BLUE], [aEcoRed, RED]]},
    {train: origB, fc: [[bEcoGreen, GREEN], [bEcoRed, RED], [bEcoBlue, BLUE]]},
    {train: origC, fc: [[cEcoCyan, CYAN], [cEcoBlue, BLUE], [cEcoGreen, GREEN], [cEcoRed, RED]]},
    {train: origA, fc: [[aArCyan, CYAN], [aArGreen, GREEN], [aArRed, RED], [aArBlue, BLUE]]},
    {train: origB, fc: [[bArGreen, GREEN], [bArRed, RED], [bArBlue, BLUE]]},
    {train: origC, fc: [[cArCyan, CYAN], [cArBlue, BLUE], [cArRed, RED], [cArGreen, GREEN]]}
];

var titles = [
    {t: 'Original sequences', x: 215.5, y: 13},
    {t: 'Original sequences', x: 660.8, y: 23.5},
    {t: 'Original sequences', x: 1105.5, y: 23.5},
    {t: 'EcoWeb', x: 215.5, y: 178},
    {t: 'EcoWeb', x: 661, y: 187},
    {t: 'EcoWeb', x: 1106, y: 185.5},
    {t: 'AR', x: 215.5, y: 343},
    {t: 'AR', x: 661, y: 349},
    {t: 'AR', x: 1106, y: 349}
];
var captions = [
    {t: '(a) Video games (#1)', x: 207.5, y: 506},
    {t: '(b) Programming languages (#2)', x: 665.8, y: 512},
    {t: '(c) Apparel companies (#4)', x: 1115.8, y: 512}
];

var FONT = '"Liberation Sans", Arial, sans-serif';

function upTo(arr, t) {
    return arr.filter(function (p) { return p[0] <= t; });
}

var grids = [], xAxes = [], yAxes = [], series = [];

boxes.forEach(function (b, i) {
    grids.push({
        left: b.l, top: b.t, width: b.r - b.l, height: b.b - b.t,
        show: true, borderColor: '#000', borderWidth: 1, backgroundColor: 'transparent'
    });
});

// bottom/left axes with labels, then mirrored top/right ticks (matlab box)
[false, true].forEach(function (mirror) {
    boxes.forEach(function (b, i) {
        xAxes.push({
            type: 'value', gridIndex: i, min: 2004, max: b.max,
            position: mirror ? 'top' : 'bottom',
            axisLine: {show: false},
            splitLine: {show: false},
            axisTick: {show: true, inside: true, length: 4, customValues: xTickVals,
                lineStyle: {color: '#000', width: 1}},
            axisLabel: {show: !mirror, customValues: xTickVals, margin: 4,
                formatter: function (v) { return String(v); },
                color: '#000', fontSize: 19.5, fontFamily: FONT}
        });
        yAxes.push({
            type: 'value', gridIndex: i, min: 0, max: 1, interval: 0.5,
            position: mirror ? 'right' : 'left',
            axisLine: {show: false},
            splitLine: {show: false},
            axisTick: {show: true, inside: true, length: 4, customValues: yTickVals,
                lineStyle: {color: '#000', width: 1}},
            axisLabel: {show: !mirror, customValues: yTickVals, margin: 7,
                formatter: function (v) { return String(v); },
                color: '#000', fontSize: 19.5, fontFamily: FONT}
        });
    });
});

function addLine(i, data, color, dashed) {
    series.push({
        type: 'line', xAxisIndex: i, yAxisIndex: i,
        data: data, showSymbol: false, symbol: 'none', clip: true,
        lineStyle: {color: color, width: 1, type: dashed ? [7, 4] : 'solid'},
        itemStyle: {color: color},
        silent: true, z: 3
    });
}

panels.forEach(function (p, i) {
    if (p.orig) {
        p.orig.forEach(function (s) { addLine(i, s[0], s[1], false); });
    } else {
        p.train.forEach(function (s) { addLine(i, upTo(s[0], splitYear), '#000', true); });
        addLine(i, [[splitYear, 0], [splitYear, 1]], '#000', false);
        p.fc.forEach(function (s) { addLine(i, s[0], s[1], false); });
    }
});

var graphics = [];
titles.forEach(function (d) {
    graphics.push({type: 'text', x: d.x, y: d.y, silent: true,
        style: {text: d.t, fill: '#000', font: '21px ' + FONT, align: 'center', verticalAlign: 'middle'}});
});
captions.forEach(function (d) {
    graphics.push({type: 'text', x: d.x, y: d.y, silent: true,
        style: {text: d.t, fill: '#333', font: '23px "Liberation Serif", "Times New Roman", serif',
            align: 'center', verticalAlign: 'middle'}});
});

var chart = echarts.init(document.getElementById('main'));
chart.setOption({
    animation: false,
    backgroundColor: '#fff',
    grid: grids,
    xAxis: xAxes,
    yAxis: yAxes,
    series: series,
    graphic: graphics
});
</script>
</body>
</html>
